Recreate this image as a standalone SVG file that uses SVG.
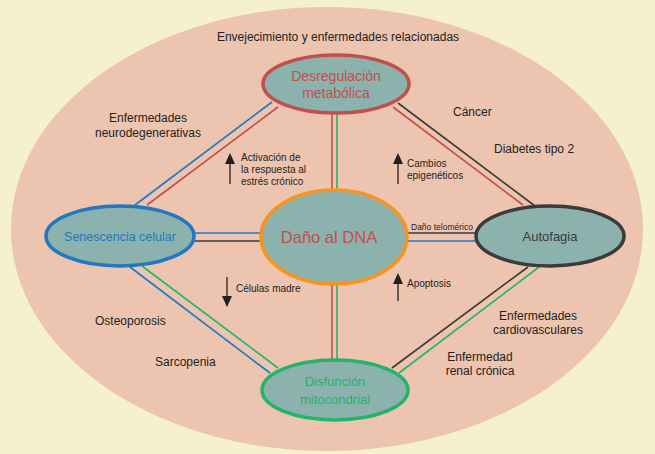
<svg xmlns="http://www.w3.org/2000/svg" width="655" height="454" viewBox="0 0 655 454">
<defs>
<style>
text{font-family:"Liberation Sans",Arial,sans-serif;fill:#231f20}
.lbl{font-size:12px}
.sm{font-size:10px}
.xs{font-size:8.5px}
.node{fill:#8cb2ae;stroke-width:3.5}
.c{fill:none;stroke-width:1.6}
.r{stroke:#c0504d}.b{stroke:#1f78c1}.g{stroke:#22b46c}.k{stroke:#3b3a3c}
.sh{stroke:#231f20;stroke-width:1.3}
.hd{fill:#231f20}
</style>
</defs>
<rect width="655" height="454" fill="#f5f0ce"/>
<ellipse cx="327" cy="229" rx="316" ry="222" fill="#ecc4b0"/>
<g id="connectors">
<line class="c b" x1="135" y1="205" x2="272" y2="102"/>
<line class="c r" x1="147" y1="205" x2="278" y2="107"/>
<line class="c r" x1="332" y1="112" x2="332" y2="191"/>
<line class="c g" x1="337" y1="112" x2="337" y2="191"/>
<line class="c k" x1="398" y1="103" x2="535" y2="206"/>
<line class="c r" x1="393" y1="107" x2="523" y2="205"/>
<line class="c b" x1="195" y1="233" x2="262" y2="233"/>
<line class="c k" x1="195" y1="241" x2="262" y2="241"/>
<line class="c k" x1="407" y1="233" x2="477" y2="233"/>
<line class="c b" x1="407" y1="241" x2="477" y2="241"/>
<line class="c b" x1="130" y1="267" x2="270" y2="373"/>
<line class="c g" x1="142" y1="266" x2="278" y2="368"/>
<line class="c r" x1="332" y1="284" x2="332" y2="361"/>
<line class="c g" x1="337" y1="284" x2="337" y2="361"/>
<line class="c k" x1="528" y1="267" x2="392" y2="368"/>
<line class="c g" x1="539" y1="267" x2="399" y2="373"/>
</g>
<g id="arrows">
<line class="sh" x1="230" y1="184" x2="230" y2="160"/>
<path class="hd" d="M225,164 L230,153 L235,164 Z"/>
<line class="sh" x1="398" y1="184" x2="398" y2="160"/>
<path class="hd" d="M393,164 L398,153 L403,164 Z"/>
<line class="sh" x1="227" y1="277" x2="227" y2="300"/>
<path class="hd" d="M222,296 L227,307 L232,296 Z"/>
<line class="sh" x1="398" y1="301" x2="398" y2="280"/>
<path class="hd" d="M393,284 L398,273 L403,284 Z"/>
</g>
<g id="desregulacion">
<ellipse class="node" cx="336" cy="84" rx="73" ry="29" stroke="#c0504d"/>
<text x="336" y="81" text-anchor="middle" font-size="14" style="fill:#c0504d">Desregulación</text>
<text x="336" y="98" text-anchor="middle" font-size="14" style="fill:#c0504d">metabólica</text>
</g>
<g id="senescencia">
<ellipse class="node" cx="120" cy="236" rx="74" ry="30" stroke="#1f78c1"/>
<text x="120" y="241" text-anchor="middle" font-size="12.5" style="fill:#1f78c1">Senescencia celular</text>
</g>
<g id="dano">
<ellipse class="node" cx="334" cy="237" rx="73" ry="47" stroke="#f7941d"/>
<text x="329" y="243" text-anchor="middle" font-size="16.5" style="fill:#c0504d">Daño al DNA</text>
</g>
<g id="autofagia">
<ellipse class="node" cx="550" cy="236" rx="74" ry="30" stroke="#3b3a3c"/>
<text x="550" y="241" text-anchor="middle" font-size="13" style="fill:#3b3a3c">Autofagia</text>
</g>
<g id="disfuncion">
<ellipse class="node" cx="335" cy="390" rx="73" ry="30" stroke="#22b46c"/>
<text x="335" y="386" text-anchor="middle" font-size="13" style="fill:#22b46c">Disfunción</text>
<text x="335" y="404" text-anchor="middle" font-size="13" style="fill:#22b46c">mitocondrial</text>
</g>
<g id="labels">
<text class="lbl" x="338" y="41" text-anchor="middle">Envejecimiento y enfermedades relacionadas</text>
<text class="lbl" x="148" y="122" text-anchor="middle">Enfermedades</text>
<text class="lbl" x="148" y="137" text-anchor="middle">neurodegenerativas</text>
<text class="sm" x="241" y="161">Activación de</text>
<text class="sm" x="241" y="173">la respuesta al</text>
<text class="sm" x="241" y="185">estrés crónico</text>
<text class="sm" x="407" y="167">Cambios</text>
<text class="sm" x="407" y="179">epigenéticos</text>
<text class="lbl" x="453" y="116">Cáncer</text>
<text class="lbl" x="494" y="153">Diabetes tipo 2</text>
<text class="xs" x="411" y="230">Daño telomérico</text>
<text class="sm" x="236" y="292">Células madre</text>
<text class="sm" x="407" y="287">Apoptosis</text>
<text class="lbl" x="95" y="325">Osteoporosis</text>
<text class="lbl" x="155" y="366">Sarcopenia</text>
<text class="lbl" x="538" y="320" text-anchor="middle">Enfermedades</text>
<text class="lbl" x="538" y="334" text-anchor="middle">cardiovasculares</text>
<text class="lbl" x="480" y="361" text-anchor="middle">Enfermedad</text>
<text class="lbl" x="480" y="375" text-anchor="middle">renal crónica</text>
</g>
</svg>
